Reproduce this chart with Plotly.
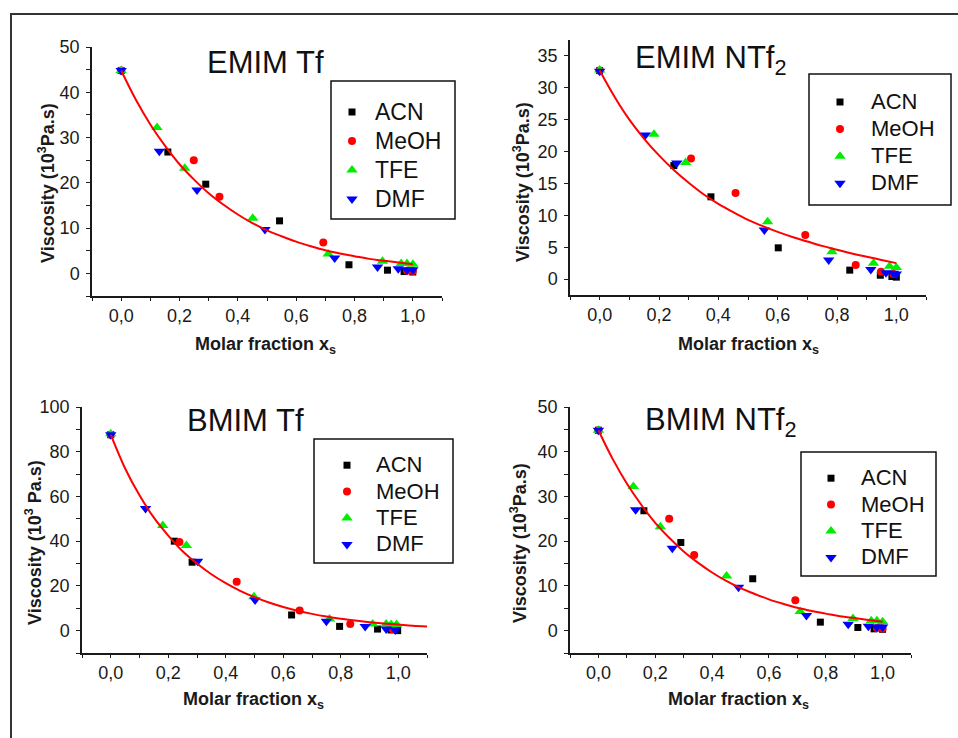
import plotly.graph_objects as go

# ---------------- data ----------------
solvents = ["ACN", "MeOH", "TFE", "DMF"]

curve_x = [0.0, 0.05, 0.1, 0.15, 0.2, 0.25, 0.3, 0.35, 0.4, 0.45, 0.5,
           0.55, 0.6, 0.65, 0.7, 0.75, 0.8, 0.85, 0.9, 0.95, 1.0]
curve_x_long = curve_x + [1.05, 1.1]

# EMIM Tf
emimtf_acn_x = [0.0, 0.16, 0.29, 0.543, 0.781, 0.913, 0.97, 1.0]
emimtf_acn_y = [44.8, 26.8, 19.7, 11.6, 1.9, 0.7, 0.4, 0.3]
emimtf_meoh_x = [0.0, 0.249, 0.337, 0.693, 0.98, 1.0]
emimtf_meoh_y = [44.8, 25.0, 16.9, 6.8, 0.6, 0.5]
emimtf_tfe_x = [0.0, 0.123, 0.218, 0.451, 0.71, 0.896, 0.96, 0.98, 1.0]
emimtf_tfe_y = [44.8, 32.2, 23.2, 12.2, 4.3, 2.7, 2.2, 2.2, 2.0]
emimtf_dmf_x = [0.0, 0.131, 0.26, 0.493, 0.732, 0.879, 0.95, 0.98, 1.0]
emimtf_dmf_y = [44.8, 27.0, 18.4, 9.7, 3.4, 1.4, 1.0, 0.8, 0.8]
emimtf_fit_y = [44.8, 38.4, 32.9, 28.2, 24.1, 20.7, 17.7, 15.2, 13.0, 11.1, 9.5,
                8.2, 7.0, 6.0, 5.1, 4.4, 3.8, 3.2, 2.8, 2.4, 2.0]

# EMIM NTf2
emimntf_acn_x = [0.0, 0.25, 0.375, 0.602, 0.843, 0.946, 0.985, 1.0]
emimntf_acn_y = [32.7, 17.8, 12.9, 4.9, 1.4, 0.6, 0.4, 0.3]
emimntf_meoh_x = [0.0, 0.308, 0.458, 0.693, 0.863, 0.948, 0.99]
emimntf_meoh_y = [32.7, 18.9, 13.5, 6.9, 2.2, 1.15, 0.8]
emimntf_tfe_x = [0.0, 0.183, 0.29, 0.566, 0.783, 0.923, 0.977, 1.0]
emimntf_tfe_y = [32.8, 22.7, 18.3, 9.0, 4.3, 2.5, 2.0, 1.8]
emimntf_dmf_x = [0.0, 0.154, 0.26, 0.555, 0.772, 0.914, 0.965, 0.99, 1.0]
emimntf_dmf_y = [32.6, 22.6, 18.2, 7.7, 3.0, 1.5, 1.0, 0.9, 0.8]
emimntf_fit_y = [32.7, 28.6, 25.0, 22.0, 19.4, 17.1, 15.1, 13.3, 11.8, 10.5, 9.3,
                 8.3, 7.4, 6.6, 5.9, 5.2, 4.6, 4.0, 3.5, 3.0, 2.5]

# BMIM Tf
bmimtf_acn_x = [0.0, 0.221, 0.283, 0.629, 0.796, 0.928, 0.975, 0.998]
bmimtf_acn_y = [87.6, 40.0, 30.6, 7.0, 1.9, 0.7, 0.3, 0.0]
bmimtf_meoh_x = [0.0, 0.239, 0.438, 0.657, 0.833, 0.98]
bmimtf_meoh_y = [87.6, 39.6, 21.9, 9.0, 3.0, 0.6]
bmimtf_tfe_x = [0.0, 0.181, 0.263, 0.498, 0.761, 0.911, 0.958, 0.975, 0.994]
bmimtf_tfe_y = [88.0, 47.0, 38.1, 15.2, 5.2, 3.0, 3.0, 2.7, 2.7]
bmimtf_dmf_x = [0.0, 0.121, 0.302, 0.502, 0.75, 0.885, 0.958, 0.99]
bmimtf_dmf_y = [87.6, 54.6, 31.0, 13.7, 4.2, 1.9, 0.7, 0.3]
bmimtf_fit_y = [87.6, 72.5, 60.5, 50.5, 42.5, 35.5, 30.0, 25.2, 21.2, 17.8, 15.0,
                12.6, 10.6, 8.9, 7.5, 6.3, 5.3, 4.5, 3.8, 3.2, 2.7, 2.2, 1.9]

# BMIM NTf2 (same measured values as shown in the figure)
bmimntf_acn_x, bmimntf_acn_y = emimtf_acn_x, emimtf_acn_y
bmimntf_meoh_x, bmimntf_meoh_y = emimtf_meoh_x, emimtf_meoh_y
bmimntf_tfe_x, bmimntf_tfe_y = emimtf_tfe_x, emimtf_tfe_y
bmimntf_dmf_x, bmimntf_dmf_y = emimtf_dmf_x, emimtf_dmf_y
bmimntf_fit_y = emimtf_fit_y

titles = ["EMIM Tf", "EMIM NTf<sub>2</sub>", "BMIM Tf", "BMIM NTf<sub>2</sub>"]
y_titles = ["Viscosity (10<sup>3</sup>Pa.s)", "Viscosity (10<sup>3</sup>Pa.s)",
            "Viscosity (10<sup>3</sup> Pa.s)", "Viscosity (10<sup>3</sup>Pa.s)"]
x_title = "Molar fraction x<sub>s</sub>"

# ---------------- styling ----------------
W, H = 958, 738
FONT = "Liberation Sans, Arial, sans-serif"
styles = {
    "ACN": dict(symbol="square", color="#000000", size=7),
    "MeOH": dict(symbol="circle", color="#ff0000", size=8),
    "TFE": dict(symbol="triangle-up", color="#00ee00", size=10),
    "DMF": dict(symbol="triangle-down", color="#0000ff", size=10),
}

def px(x): return x / W
def py(y): return 1 - y / H

panels = [
    dict(data=[(emimtf_acn_x, emimtf_acn_y), (emimtf_meoh_x, emimtf_meoh_y),
               (emimtf_tfe_x, emimtf_tfe_y), (emimtf_dmf_x, emimtf_dmf_y)],
         fx=curve_x, fy=emimtf_fit_y,
         xd=(92, 442), yd=(296, 47), yr=[-5, 50], ydt=10, ymin=5,
         title_xy=(265, 62), ytitle_xy=(47, 183), xtitle_xy=(265, 345),
         box=(331, 81, 455, 219), leg=(329, 92.5), legfont=20, legtxt=23, itemw=36),
    dict(data=[(emimntf_acn_x, emimntf_acn_y), (emimntf_meoh_x, emimntf_meoh_y),
               (emimntf_tfe_x, emimntf_tfe_y), (emimntf_dmf_x, emimntf_dmf_y)],
         fx=curve_x, fy=emimntf_fit_y,
         xd=(570, 926), yd=(295, 40), yr=[-2.5, 37.5], ydt=5, ymin=None,
         title_xy=(711, 60), ytitle_xy=(521, 182), xtitle_xy=(748, 345),
         box=(809, 74, 951, 205), leg=(809, 83.5), legfont=18.5, legtxt=22, itemw=52),
    dict(data=[(bmimtf_acn_x, bmimtf_acn_y), (bmimtf_meoh_x, bmimtf_meoh_y),
               (bmimtf_tfe_x, bmimtf_tfe_y), (bmimtf_dmf_x, bmimtf_dmf_y)],
         fx=curve_x_long, fy=bmimtf_fit_y,
         xd=(82, 427), yd=(653, 407), yr=[-10, 100], ydt=20, ymin=10,
         title_xy=(245, 420), ytitle_xy=(33, 543), xtitle_xy=(253, 700),
         box=(314, 439, 453, 563), leg=(318, 447), legfont=18, legtxt=22, itemw=48),
    dict(data=[(bmimntf_acn_x, bmimntf_acn_y), (bmimntf_meoh_x, bmimntf_meoh_y),
               (bmimntf_tfe_x, bmimntf_tfe_y), (bmimntf_dmf_x, bmimntf_dmf_y)],
         fx=curve_x, fy=bmimntf_fit_y,
         xd=(570, 911), yd=(653, 407), yr=[-5, 50], ydt=10, ymin=5,
         title_xy=(721, 422), ytitle_xy=(518, 543), xtitle_xy=(738, 700),
         box=(801, 452, 936, 576), leg=(801, 460), legfont=18, legtxt=22, itemw=50),
]

fig = go.Figure()
annotations = []
shapes = []

for i, p in enumerate(panels):
    n = i + 1
    xa = "x" if n == 1 else f"x{n}"
    ya = "y" if n == 1 else f"y{n}"
    legname = "legend" if n == 1 else f"legend{n}"
    for s, (xs, ys) in zip(solvents, p["data"]):
        st = styles[s]
        fig.add_trace(go.Scatter(
            x=xs, y=ys, mode="markers", xaxis=xa, yaxis=ya, legend=legname,
            name=f"<span style='font-size:{p['legtxt']}px'>{s}</span>",
            marker=dict(symbol=st["symbol"], color=st["color"], size=st["size"],
                        line=dict(width=0)),
        ))
    fig.add_trace(go.Scatter(
        x=p["fx"], y=p["fy"], mode="lines", xaxis=xa, yaxis=ya, showlegend=False,
        line=dict(color="#ff0000", width=2, shape="spline"),
    ))

    axis_common = dict(showline=True, linecolor="#1a1a1a", linewidth=1.5,
                       ticks="outside", tickwidth=1.3, tickcolor="#1a1a1a",
                       showgrid=False, zeroline=False, mirror=False, automargin=False,
                       tickfont=dict(family=FONT, size=18, color="#1a1a1a"))
    xkey = "xaxis" if n == 1 else f"xaxis{n}"
    ykey = "yaxis" if n == 1 else f"yaxis{n}"
    fig.update_layout(**{
        xkey: dict(domain=[px(p["xd"][0]), px(p["xd"][1])], range=[-0.1, 1.1],
                   anchor=ya, tick0=0, dtick=0.2, tickformat=".1f", ticklen=3,
                   minor=dict(dtick=0.1, tick0=0, ticks="outside", ticklen=3,
                              tickwidth=1.3, tickcolor="#1a1a1a"),
                   **axis_common),
        ykey: dict(domain=[py(p["yd"][0]), py(p["yd"][1])], range=p["yr"],
                   anchor=xa, tick0=0, dtick=p["ydt"], ticklabelstandoff=3, ticklen=4,
                   **({"minor": dict(dtick=p["ymin"], tick0=0, ticks="outside",
                                     ticklen=4, tickwidth=1.3, tickcolor="#1a1a1a")}
                      if p["ymin"] else {}),
                   **axis_common),
        legname: dict(x=px(p["leg"][0]), y=py(p["leg"][1]), xanchor="left",
                      yanchor="top", bgcolor="rgba(0,0,0,0)", borderwidth=0,
                      font=dict(family=FONT, size=p["legfont"], color="#111111"),
                      itemwidth=p["itemw"], tracegroupgap=0),
    })

    annotations.append(dict(text=titles[i], x=px(p["title_xy"][0]), y=py(p["title_xy"][1]),
                            xref="paper", yref="paper", showarrow=False,
                            xanchor="center", yanchor="middle",
                            font=dict(family=FONT, size=31, color="#111111")))
    annotations.append(dict(text="<b>" + y_titles[i] + "</b>",
                            x=px(p["ytitle_xy"][0]), y=py(p["ytitle_xy"][1]),
                            xref="paper", yref="paper", showarrow=False, textangle=-90,
                            xanchor="center", yanchor="middle",
                            font=dict(family=FONT, size=18, color="#1a1a1a")))
    annotations.append(dict(text="<b>" + x_title + "</b>",
                            x=px(p["xtitle_xy"][0]), y=py(p["xtitle_xy"][1]),
                            xref="paper", yref="paper", showarrow=False,
                            xanchor="center", yanchor="middle",
                            font=dict(family=FONT, size=18, color="#1a1a1a")))
    b = p["box"]
    shapes.append(dict(type="rect", xref="paper", yref="paper",
                       x0=px(b[0]), x1=px(b[2]), y0=py(b[3]), y1=py(b[1]),
                       line=dict(color="#111111", width=1.5)))

# outer frame
shapes.append(dict(type="rect", xref="paper", yref="paper",
                   x0=px(11), x1=1.02, y0=-0.02, y1=py(14),
                   line=dict(color="#333333", width=2)))

fig.update_layout(width=W, height=H, autosize=False,
                  margin=dict(l=0, r=0, t=0, b=0, autoexpand=False),
                  paper_bgcolor="white", plot_bgcolor="white",
                  separators=",.", annotations=annotations, shapes=shapes,
                  font=dict(family=FONT))

fig.write_html("out.html", config={"displayModeBar": False},
               post_script="document.body.style.margin='0px';"
                           "document.body.style.overflow='hidden';")
